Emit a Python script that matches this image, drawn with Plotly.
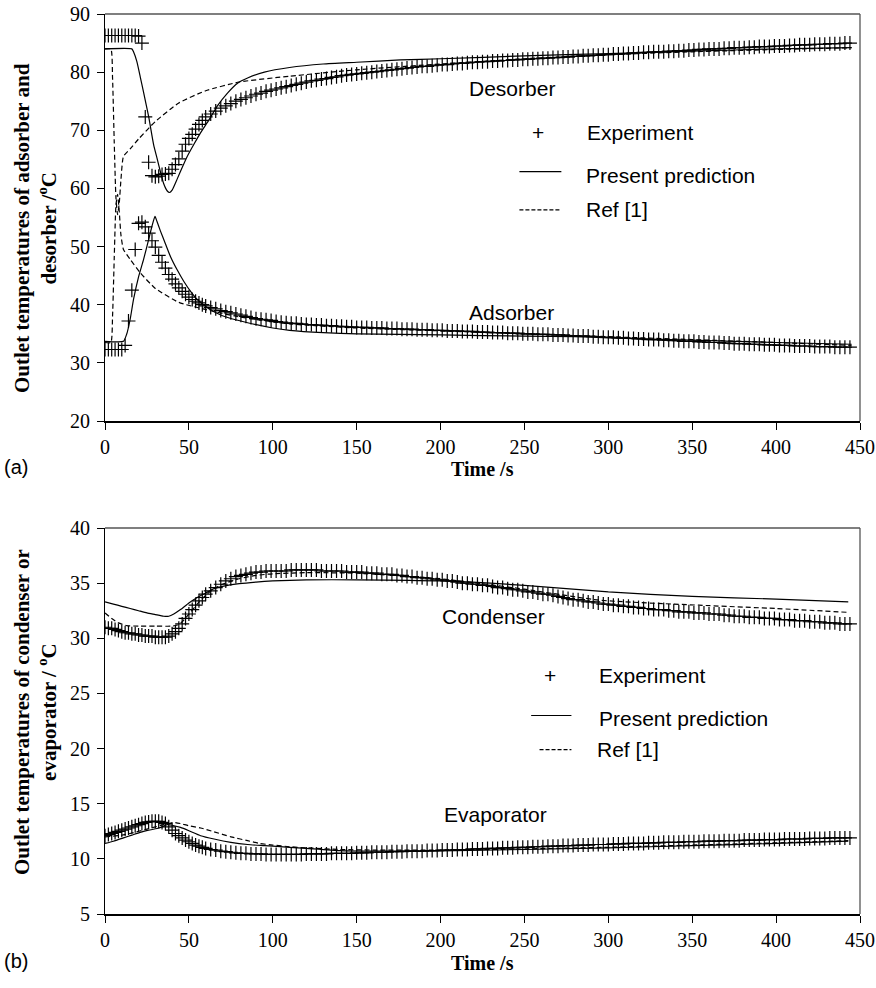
import plotly.graph_objects as go

W, H = 876, 988
SERIF = "Liberation Serif, Times New Roman, serif"
SANS = "Liberation Sans, Arial, sans-serif"

# ---------------- data: panel (a) adsorber / desorber ----------------
t_exp = list(range(0, 62, 2)) + list(range(63, 445, 3))

des_exp = [
    86.3, 86.3, 86.3, 86.3, 86.3, 86.3, 86.3, 86.3, 86.3, 86.3,
    86.2, 85.0, 72.3, 64.5, 62.2, 62.0, 62.1, 62.4, 62.5, 62.6,
    63.3, 64.1, 65.1, 66.4, 67.6, 68.6, 69.3, 70.2, 71.0, 71.7,
    72.3,
    72.8, 73.3, 73.8, 74.2, 74.6, 75.0, 75.3, 75.6, 75.9, 76.2,
    76.4, 76.7, 76.9, 77.1, 77.3, 77.5, 77.7, 77.9, 78.1, 78.3,
    78.5, 78.6, 78.8, 78.9, 79.1, 79.2, 79.4, 79.5, 79.6, 79.7,
    79.8, 79.9, 80.0, 80.1, 80.2, 80.3, 80.4, 80.5, 80.6, 80.7,
    80.8, 80.9, 81.0, 81.0, 81.1, 81.2, 81.3, 81.3, 81.4, 81.5,
    81.5, 81.6, 81.7, 81.7, 81.8, 81.8, 81.9, 81.9, 82.0, 82.0,
    82.1, 82.1, 82.2, 82.2, 82.3, 82.3, 82.4, 82.4, 82.5, 82.5,
    82.6, 82.6, 82.7, 82.7, 82.8, 82.8, 82.9, 82.9, 83.0, 83.0,
    83.1, 83.1, 83.2, 83.2, 83.3, 83.3, 83.4, 83.4, 83.5, 83.5,
    83.5, 83.6, 83.6, 83.7, 83.7, 83.8, 83.8, 83.9, 83.9, 84.0,
    84.0, 84.0, 84.1, 84.1, 84.2, 84.2, 84.2, 84.3, 84.3, 84.4,
    84.4, 84.4, 84.5, 84.5, 84.5, 84.6, 84.6, 84.7, 84.7, 84.7,
    84.8, 84.8, 84.8, 84.9, 84.9, 84.9, 85.0, 85.0,
]

ads_exp = [
    32.3, 32.3, 32.3, 32.3, 32.3, 32.3, 33.0, 37.2, 42.5, 49.5,
    54.0, 54.2, 53.4, 52.3, 51.0, 49.9, 48.5, 47.3, 46.3, 45.2,
    44.4, 43.6, 42.9, 42.3, 41.8, 41.3, 40.9, 40.6, 40.3, 40.0,
    39.8,
    39.5, 39.3, 39.0, 38.8, 38.6, 38.4, 38.2, 38.0, 37.8, 37.6,
    37.5, 37.4, 37.3, 37.1, 37.0, 36.9, 36.8, 36.8, 36.7, 36.6,
    36.6, 36.5, 36.5, 36.4, 36.4, 36.3, 36.3, 36.2, 36.2, 36.1,
    36.1, 36.1, 36.0, 36.0, 36.0, 35.9, 35.9, 35.9, 35.8, 35.8,
    35.8, 35.7, 35.7, 35.7, 35.6, 35.6, 35.6, 35.5, 35.5, 35.5,
    35.4, 35.4, 35.4, 35.3, 35.3, 35.3, 35.2, 35.2, 35.2, 35.1,
    35.1, 35.1, 35.0, 35.0, 35.0, 34.9, 34.9, 34.9, 34.8, 34.8,
    34.8, 34.7, 34.7, 34.6, 34.6, 34.6, 34.5, 34.5, 34.4, 34.4,
    34.4, 34.3, 34.3, 34.2, 34.2, 34.1, 34.1, 34.0, 34.0, 34.0,
    33.9, 33.9, 33.8, 33.8, 33.7, 33.7, 33.7, 33.6, 33.6, 33.5,
    33.5, 33.5, 33.4, 33.4, 33.3, 33.3, 33.3, 33.2, 33.2, 33.2,
    33.1, 33.1, 33.1, 33.0, 33.0, 33.0, 32.9, 32.9, 32.9, 32.9,
    32.8, 32.8, 32.8, 32.8, 32.7, 32.7, 32.7, 32.7,
]

t_des_pred = [0, 16, 17, 19, 21, 23, 26, 29, 31, 33, 35, 37, 38.5, 40, 43, 46, 49,
              53, 57, 62, 67, 73, 79, 85, 95, 110, 130, 150, 176, 200, 250, 300,
              350, 400, 445]
des_pred = [84.0, 84.0, 83.5, 81.8, 79.2, 76.5, 72.4, 67.5, 65.2, 62.9, 60.8, 59.6,
            59.3, 59.7, 61.6, 63.6, 65.5, 67.6, 69.6, 71.8, 74.2, 76.4, 78.1, 79.0,
            80.0, 80.8, 81.4, 81.7, 82.1, 82.3, 82.8, 83.2, 83.6, 84.0, 84.2]

t_ads_pred = [0, 11, 13, 15, 17, 20, 23, 26, 28, 29.8, 31, 33, 36, 39, 43, 47, 51,
              55, 62, 70, 85, 100, 110, 130, 150, 200, 250, 280, 300, 350, 400, 445]
ads_pred = [33.7, 33.7, 35.0, 37.5, 40.9, 44.8, 47.8, 51.2, 53.5, 55.2, 54.3, 52.7,
            50.5, 48.3, 46.0, 44.0, 42.3, 40.9, 39.3, 38.1, 36.9, 36.0, 35.6, 35.2,
            35.0, 34.8, 34.6, 34.5, 34.3, 33.9, 33.5, 33.2]

t_des_ref = [0, 3.5, 4.5, 5.5, 6.5, 7.5, 8.5, 9.5, 11, 15, 20, 30, 44, 60, 80, 110,
             150, 200, 250, 300, 350, 400, 445]
des_ref = [84.0, 84.0, 79.0, 68.0, 58.5, 55.5, 57.5, 61.5, 65.5, 66.8, 68.5, 71.5,
           74.7, 76.8, 78.3, 79.3, 80.4, 81.4, 82.3, 83.0, 83.5, 83.9, 84.2]

t_ads_ref = [0, 3.5, 4.5, 5.5, 6.5, 7.5, 8.5, 9.5, 11, 15, 21, 30, 44, 61, 80, 110,
             150, 200, 250, 300, 350, 400, 445]
ads_ref = [33.5, 33.5, 38.0, 48.0, 57.0, 59.0, 56.0, 52.0, 49.5, 47.8, 45.5, 42.8,
           40.4, 39.1, 37.9, 36.7, 36.0, 35.5, 35.0, 34.5, 34.0, 33.5, 33.0]

# ---------------- data: panel (b) condenser / evaporator ----------------
con_exp = [
    31.0, 30.9, 30.9, 30.8, 30.7, 30.6, 30.5, 30.5, 30.4, 30.4,
    30.3, 30.3, 30.2, 30.2, 30.2, 30.1, 30.1, 30.1, 30.1, 30.2,
    30.4, 30.6, 30.9, 31.3, 31.8, 32.2, 32.6, 33.0, 33.4, 33.7,
    34.0,
    34.3, 34.6, 34.9, 35.2, 35.4, 35.6, 35.7, 35.8, 35.9, 36.0,
    36.0, 36.1, 36.1, 36.1, 36.1, 36.1, 36.2, 36.2, 36.2, 36.2,
    36.2, 36.2, 36.1, 36.1, 36.1, 36.1, 36.1, 36.0, 36.0, 36.0,
    36.0, 35.9, 35.9, 35.9, 35.8, 35.8, 35.8, 35.7, 35.7, 35.6,
    35.6, 35.5, 35.5, 35.4, 35.4, 35.3, 35.3, 35.2, 35.2, 35.1,
    35.0, 35.0, 34.9, 34.9, 34.8, 34.8, 34.7, 34.6, 34.6, 34.5,
    34.4, 34.4, 34.3, 34.2, 34.2, 34.1, 34.0, 34.0, 33.9, 33.8,
    33.7, 33.6, 33.5, 33.5, 33.4, 33.3, 33.3, 33.2, 33.1, 33.1,
    33.0, 33.0, 32.9, 32.9, 32.8, 32.8, 32.7, 32.7, 32.6, 32.6,
    32.6, 32.5, 32.5, 32.4, 32.4, 32.4, 32.3, 32.3, 32.3, 32.2,
    32.2, 32.2, 32.1, 32.1, 32.0, 32.0, 32.0, 31.9, 31.9, 31.9,
    31.8, 31.8, 31.8, 31.7, 31.7, 31.7, 31.6, 31.6, 31.6, 31.5,
    31.5, 31.5, 31.4, 31.4, 31.4, 31.3, 31.3, 31.3,
]

eva_exp = [
    12.1, 12.2, 12.3, 12.4, 12.5, 12.6, 12.7, 12.8, 12.9, 13.0,
    13.1, 13.2, 13.3, 13.35, 13.4, 13.4, 13.4, 13.3, 13.2, 12.9,
    12.6, 12.3, 12.1, 11.9, 11.7, 11.55, 11.4, 11.25, 11.15, 11.05,
    10.95,
    10.85, 10.8, 10.7, 10.65, 10.6, 10.55, 10.5, 10.5, 10.45, 10.45,
    10.45, 10.4, 10.4, 10.4, 10.4, 10.4, 10.4, 10.4, 10.4, 10.45,
    10.45, 10.45, 10.45, 10.45, 10.5, 10.5, 10.5, 10.5, 10.5, 10.55,
    10.55, 10.55, 10.6, 10.6, 10.6, 10.6, 10.65, 10.65, 10.65, 10.7,
    10.7, 10.7, 10.7, 10.75, 10.75, 10.75, 10.8, 10.8, 10.8, 10.85,
    10.85, 10.85, 10.9, 10.9, 10.9, 10.95, 10.95, 10.95, 11.0, 11.0,
    11.0, 11.05, 11.05, 11.05, 11.1, 11.1, 11.1, 11.15, 11.15, 11.15,
    11.2, 11.2, 11.2, 11.25, 11.25, 11.25, 11.3, 11.3, 11.3, 11.3,
    11.35, 11.35, 11.35, 11.4, 11.4, 11.4, 11.4, 11.45, 11.45, 11.45,
    11.5, 11.5, 11.5, 11.5, 11.55, 11.55, 11.55, 11.55, 11.6, 11.6,
    11.6, 11.6, 11.65, 11.65, 11.65, 11.65, 11.7, 11.7, 11.7, 11.7,
    11.75, 11.75, 11.75, 11.75, 11.8, 11.8, 11.8, 11.8, 11.8, 11.85,
    11.85, 11.85, 11.85, 11.9, 11.9, 11.9, 11.9, 11.9,
]

t_con_pred = [0, 5, 10, 15, 20, 25, 30, 35, 38, 41, 45, 50, 55, 60, 65, 70, 80, 90,
              100, 120, 150, 200, 250, 300, 350, 400, 443]
con_pred = [33.3, 33.1, 32.9, 32.7, 32.5, 32.3, 32.15, 32.0, 32.0, 32.2, 32.6, 33.2,
            33.7, 34.1, 34.5, 34.7, 34.95, 35.1, 35.2, 35.3, 35.3, 35.2, 34.8, 34.2,
            33.8, 33.55, 33.3]

t_con_ref = [0, 4, 8, 13, 20, 30, 40, 43, 46, 50, 55, 60, 65, 70, 80, 90, 100, 120,
             150, 200, 250, 295, 354, 400, 443]
con_ref = [32.3, 31.8, 31.4, 31.15, 31.1, 31.1, 31.1, 31.2, 31.5, 32.2, 33.1, 33.9,
           34.5, 34.9, 35.4, 35.7, 35.85, 35.95, 35.9, 35.4, 34.45, 33.45, 33.0,
           32.7, 32.35]

t_eva_pred = [0, 5, 11, 16, 21, 26, 31, 34, 37, 40, 45, 50, 57, 65, 75, 85, 95, 110,
              120, 140, 160, 180, 200, 250, 300, 350, 400, 443]
eva_pred = [11.4, 11.6, 11.9, 12.15, 12.4, 12.6, 12.75, 12.9, 13.1, 13.05, 12.85,
            12.55, 12.1, 11.8, 11.5, 11.3, 11.2, 11.05, 10.95, 10.75, 10.7, 10.7,
            10.72, 10.85, 11.0, 11.2, 11.4, 11.6]

t_eva_ref = [0, 5, 10, 15, 20, 25, 30, 35, 38, 41, 45, 50, 57, 65, 75, 85, 92, 100,
             110, 120, 140, 160, 200, 250, 300, 350, 400, 443]
eva_ref = [12.0, 12.05, 12.15, 12.3, 12.5, 12.7, 12.9, 13.1, 13.2, 13.3, 13.2, 13.0,
           12.8, 12.45, 12.0, 11.65, 11.4, 11.25, 11.1, 11.0, 10.85, 10.8, 10.8, 10.9,
           11.05, 11.25, 11.45, 11.65]

x_ticks = [0, 50, 100, 150, 200, 250, 300, 350, 400, 450]

# ---------------- layout geometry (pixels -> paper) ----------------
def px(x):
    return x / W

def py(y):
    return 1 - y / H

XD = [px(105), px(860)]
YD1 = [py(421), py(14)]
YD2 = [py(914), py(528)]

fig = go.Figure()

mk = dict(symbol="cross-thin", size=10, color="black", line=dict(width=1.2, color="black"))
solid = dict(color="black", width=1.2)
dashed = dict(color="black", width=1.2, dash="5px,3px")

def add(x, y, ax, kind):
    xa, ya = ("x", "y") if ax == 1 else ("x2", "y2")
    if kind == "exp":
        fig.add_trace(go.Scatter(x=x, y=y, mode="markers", marker=mk, xaxis=xa, yaxis=ya,
                                 hoverinfo="skip"))
    else:
        fig.add_trace(go.Scatter(x=x, y=y, mode="lines",
                                 line=dict(solid if kind == "pred" else dashed, shape="spline",
                                           smoothing=0.5),
                                 xaxis=xa, yaxis=ya, hoverinfo="skip"))

add(t_des_ref, des_ref, 1, "ref")
add(t_ads_ref, ads_ref, 1, "ref")
add(t_des_pred, des_pred, 1, "pred")
add(t_ads_pred, ads_pred, 1, "pred")
add(t_exp, des_exp, 1, "exp")
add(t_exp, ads_exp, 1, "exp")

add(t_con_ref, con_ref, 2, "ref")
add(t_eva_ref, eva_ref, 2, "ref")
add(t_con_pred, con_pred, 2, "pred")
add(t_eva_pred, eva_pred, 2, "pred")
add(t_exp, con_exp, 2, "exp")
add(t_exp, eva_exp, 2, "exp")

tickfont = dict(family=SERIF, size=20, color="black")
common_x = dict(range=[0, 450], tickvals=x_ticks, ticks="outside", ticklen=7, tickwidth=1.2,
                tickcolor="black", showline=True, linecolor="black", linewidth=1.6,
                showgrid=False, zeroline=False, tickfont=tickfont, automargin=False,
                fixedrange=True)
common_y = dict(ticks="outside", ticklen=7, tickwidth=1.2, tickcolor="black", showline=True,
                linecolor="black", linewidth=1.2, showgrid=False, zeroline=False,
                tickfont=tickfont, automargin=False, fixedrange=True, ticklabelstandoff=3)

fig.update_layout(
    width=W, height=H, margin=dict(l=0, r=0, t=0, b=0),
    paper_bgcolor="white", plot_bgcolor="white", showlegend=False,
    xaxis=dict(common_x, domain=XD, anchor="y"),
    yaxis=dict(common_y, domain=YD1, anchor="x", range=[20, 90], dtick=10, tick0=20),
    xaxis2=dict(common_x, domain=XD, anchor="y2", linewidth=2.2),
    yaxis2=dict(common_y, domain=YD2, anchor="x2", range=[5, 40], dtick=5, tick0=5),
)

shapes = []
# gray top / right frame of each panel
for xr, yr in (("x domain", "y domain"), ("x2 domain", "y2 domain")):
    shapes.append(dict(type="line", xref=xr, yref=yr, x0=0, x1=1, y0=1, y1=1,
                       line=dict(color="#555555", width=1.3)))
    shapes.append(dict(type="line", xref=xr, yref=yr, x0=1, x1=1, y0=0, y1=1,
                       line=dict(color="#555555", width=1.3)))

# legend samples
shapes.append(dict(type="line", xref="x", yref="y", x0=247, x1=272, y0=62.9, y1=62.9,
                   line=dict(color="black", width=1.2)))
shapes.append(dict(type="line", xref="x", yref="y", x0=247, x1=272, y0=56.3, y1=56.3,
                   line=dict(color="black", width=1.2, dash="4px,2px")))
shapes.append(dict(type="line", xref="x2", yref="y2", x0=254, x1=278, y0=23.0, y1=23.0,
                   line=dict(color="black", width=1.2)))
shapes.append(dict(type="line", xref="x2", yref="y2", x0=259, x1=278, y0=19.9, y1=19.9,
                   line=dict(color="black", width=1.2, dash="4px,2px")))

anns = []

def note(x, y, text, xref, yref, size=21, font=SANS, xanchor="left", angle=0):
    anns.append(dict(x=x, y=y, xref=xref, yref=yref, text=text, showarrow=False,
                     xanchor=xanchor, yanchor="middle", textangle=angle,
                     font=dict(family=font, size=size, color="black")))

# panel (a) labels
note(215.7, 77.1, "Desorber", "x", "y")
note(215.7, 38.6, "Adsorber", "x", "y")
note(258, 69.6, "+", "x", "y", xanchor="center")
note(286, 69.6, "Experiment", "x", "y")
note(285.5, 62.3, "Present prediction", "x", "y")
note(285.5, 56.3, "Ref [1]", "x", "y")

# panel (b) labels
note(199.6, 32.0, "Condenser", "x2", "y2")
note(200.8, 14.05, "Evaporator", "x2", "y2")
note(265, 26.6, "+", "x2", "y2", xanchor="center")
note(293, 26.6, "Experiment", "x2", "y2")
note(293, 22.7, "Present prediction", "x2", "y2")
note(292, 19.9, "Ref [1]", "x2", "y2")

# axis titles
note(px(482), py(469), "<b>Time /s</b>", "paper", "paper", size=20, font=SERIF,
     xanchor="center")
note(px(482), py(963), "<b>Time /s</b>", "paper", "paper", size=20, font=SERIF,
     xanchor="center")
note(px(2), py(467), "(a)", "paper", "paper", size=20)
note(px(2), py(961), "(b)", "paper", "paper", size=20)
note(px(35), py(228), "<b>Outlet temperatures of adsorber and<br>desorber /<sup>o</sup>C</b>",
     "paper", "paper", size=21, font=SERIF, xanchor="center", angle=-90)
note(px(35), py(712), "<b>Outlet temperatures of condenser or<br>evaporator / <sup>o</sup>C</b>",
     "paper", "paper", size=21, font=SERIF, xanchor="center", angle=-90)

fig.update_layout(shapes=shapes, annotations=anns)
fig.write_html("out.html")
